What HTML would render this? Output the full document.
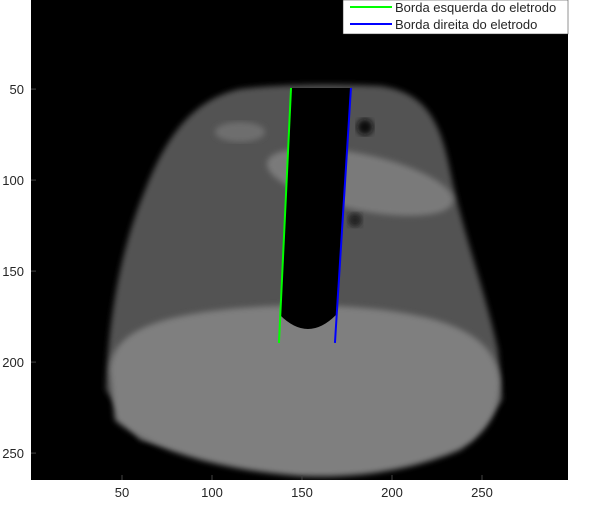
<!DOCTYPE html>
<html><head><meta charset="utf-8"><style>
body{margin:0;background:#fff;font-family:"Liberation Sans",sans-serif}
svg text{font-family:"Liberation Sans",sans-serif;font-size:13px;fill:#262626}
</style></head><body>
<svg id="c" width="593" height="506">
<defs><filter id="bl"><feGaussianBlur stdDeviation="3"/></filter>
<clipPath id="ax"><rect x="31" y="0" width="537" height="480"/></clipPath></defs>
<rect x="31" y="0" width="537" height="480" fill="#000"/>
<g clip-path="url(#ax)">
<path d="M106,390 C108,320 120,250 145,190 C165,140 190,100 240,89 C280,84 340,84 380,86 C425,92 440,120 450,170 C462,230 485,290 498,350 L502,400 L470,440 L300,470 L140,440 Z" fill="#525252" filter="url(#bl)"/>
<ellipse cx="360" cy="182" rx="95" ry="28" transform="rotate(12 360 182)" fill="#7a7a7a" filter="url(#bl)"/>
<ellipse cx="240" cy="132" rx="25" ry="10" fill="#6e6e6e" filter="url(#bl)"/>
<path d="M110,370 C112,330 160,308 305,305 C450,308 494,335 500,380 C500,410 490,430 460,450 C400,475 340,478 300,476 C220,470 150,450 115,420 Z" fill="#7f7f7f" filter="url(#bl)"/>
<circle cx="365" cy="127" r="8" fill="#111" filter="url(#bl)"/>
<circle cx="355" cy="220" r="7" fill="#222" filter="url(#bl)"/>
<path id="elec" fill="#000"/>
</g>
<g id="lines"></g>
<g id="ticks"></g>
<rect x="343" y="0" width="225" height="34" fill="#fff" stroke="#262626" stroke-width="0.5"/>
<line x1="350" y1="7" x2="392" y2="7" stroke="#00ff00" stroke-width="2"/>
<text x="395" y="12">Borda esquerda do eletrodo</text>
<line x1="350" y1="24" x2="392" y2="24" stroke="#0000ff" stroke-width="2"/>
<text x="395" y="29">Borda direita do eletrodo</text>
</svg>
<script>
const xTicks=[50,100,150,200,250];
const yTicks=[50,100,150,200,250];
const leftEdgeX=[143.9,137.2];
const leftEdgeY=[49.4,189.5];
const rightEdgeX=[177.2,168.3];
const rightEdgeY=[49.4,189.5];
const xp=v=>32.9+(v-0.5)*1.8;
const yp=v=>-1+(v-0.5)*1.82;
const NS="http://www.w3.org/2000/svg";
const L=document.getElementById('lines'),T=document.getElementById('ticks');
function mk(p,tag,a){const e=document.createElementNS(NS,tag);for(const k in a)e.setAttribute(k,a[k]);p.appendChild(e);return e;}
const ex1=xp(leftEdgeX[0]),ex2=xp(rightEdgeX[0]),ey1=yp(leftEdgeY[0]),bx1=xp(leftEdgeX[1])+1,bx2=xp(rightEdgeX[1])+1,by=yp(leftEdgeY[1])-28;
document.getElementById('elec').setAttribute('d',`M${ex1},${ey1} L${ex2},${ey1} L${bx2},${by} Q${(bx1+bx2)/2},${by+28} ${bx1},${by} Z`);
const gl=mk(L,'line',{x1:xp(leftEdgeX[0]),y1:yp(leftEdgeY[0]),x2:xp(leftEdgeX[1]),y2:yp(leftEdgeY[1]),stroke:'#00ff00','stroke-width':2});


const bl=mk(L,'line',{x1:xp(rightEdgeX[0]),y1:yp(rightEdgeY[0]),x2:xp(rightEdgeX[1]),y2:yp(rightEdgeY[1]),stroke:'#0000ff','stroke-width':2});


xTicks.forEach(v=>{const x=xp(v);
mk(T,'line',{x1:x,y1:480,x2:x,y2:475,stroke:'#444'});
const t=mk(T,'text',{x:x,y:497,'text-anchor':'middle'});t.textContent=v;

});
yTicks.forEach(v=>{const y=yp(v);
mk(T,'line',{x1:31,y1:y,x2:36,y2:y,stroke:'#444'});
const t=mk(T,'text',{x:24,y:y+5,'text-anchor':'end'});t.textContent=v;

});
</script>
</body></html>
